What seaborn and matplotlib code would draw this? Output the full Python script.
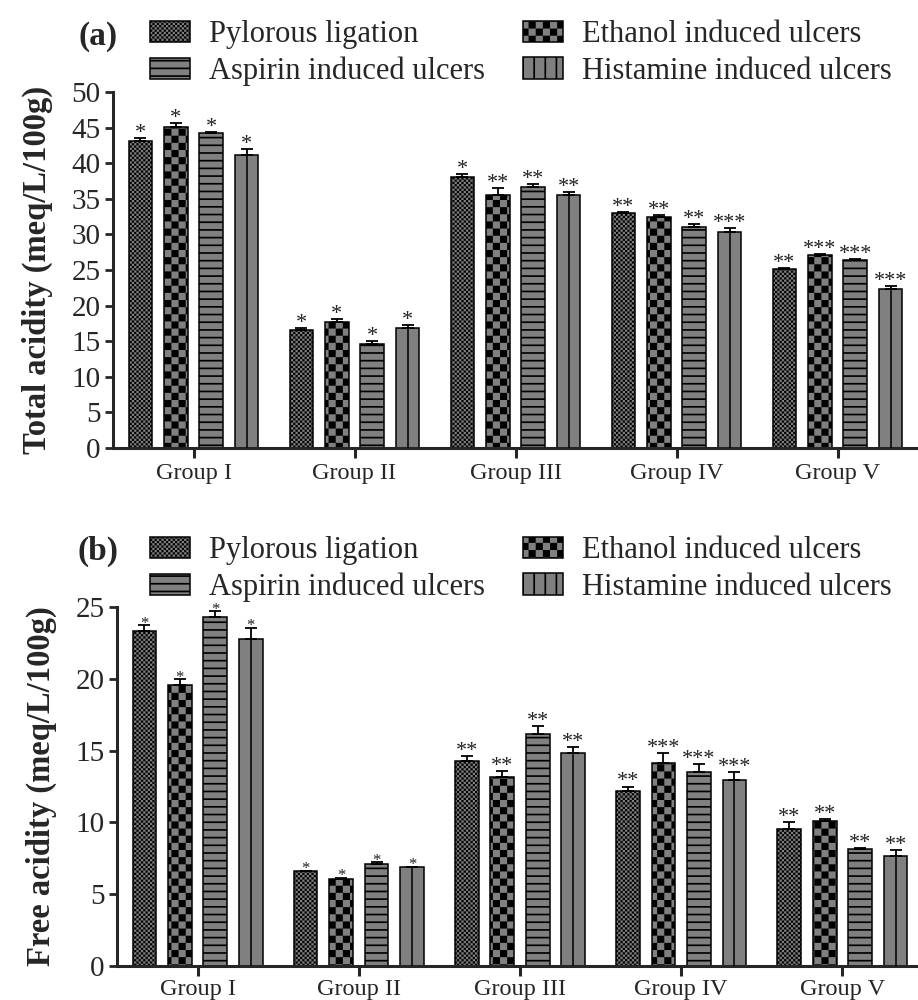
import warnings
import numpy as np
import pandas as pd
import matplotlib
matplotlib.use("Agg")
import matplotlib.pyplot as plt
import matplotlib.patches as mpatches
import matplotlib.hatch as mhatch
from matplotlib.path import Path
import seaborn as sns

warnings.filterwarnings("ignore")

# ---------------- data ----------------
groups = ["Group I", "Group II", "Group III", "Group IV", "Group V"]
series = ["Pylorous ligation", "Ethanol induced ulcers",
          "Aspirin induced ulcers", "Histamine induced ulcers"]

# (a) total acidity, mean and SEM
pylorous_total = [43.1, 16.6, 38.0, 33.0, 25.1]
ethanol_total = [45.1, 17.7, 35.5, 32.4, 27.1]
aspirin_total = [44.2, 14.6, 36.7, 31.1, 26.4]
histamine_total = [41.2, 16.9, 35.5, 30.3, 22.4]
pylorous_total_err = [0.5, 0.2, 0.5, 0.1, 0.15]
ethanol_total_err = [0.6, 0.4, 1.0, 0.3, 0.15]
aspirin_total_err = [0.2, 0.4, 0.4, 0.4, 0.15]
histamine_total_err = [0.8, 0.4, 0.4, 0.6, 0.4]
pylorous_total_sig = ["*", "*", "*", "**", "**"]
ethanol_total_sig = ["*", "*", "**", "**", "***"]
aspirin_total_sig = ["*", "*", "**", "**", "***"]
histamine_total_sig = ["*", "*", "**", "***", "***"]

# (b) free acidity, mean and SEM
pylorous_free = [23.35, 6.6, 14.3, 12.2, 9.56]
ethanol_free = [19.55, 6.06, 13.14, 14.16, 10.12]
aspirin_free = [24.28, 7.12, 16.18, 13.53, 8.15]
histamine_free = [22.8, 6.87, 14.83, 12.97, 7.68]
pylorous_free_err = [0.4, 0.05, 0.3, 0.3, 0.44]
ethanol_free_err = [0.45, 0.1, 0.44, 0.67, 0.12]
aspirin_free_err = [0.45, 0.1, 0.53, 0.54, 0.1]
histamine_free_err = [0.76, 0.05, 0.4, 0.54, 0.38]
pylorous_free_sig = ["*", "*", "**", "**", "**"]
ethanol_free_sig = ["*", "*", "**", "***", "**"]
aspirin_free_sig = ["*", "*", "**", "***", "**"]
histamine_free_sig = ["*", "*", "**", "***", "**"]


# ---------------- custom fill patterns ----------------
class CheckerHatch(mhatch.HatchPatternBase):
    """Filled checkerboard: 'c' = fine, 'k' = coarse."""

    def __init__(self, hatch, density):
        if "c" in hatch:
            self.n = 44
        elif "k" in hatch:
            self.n = 14
        else:
            self.n = 0
        self.num_vertices = (self.n * self.n // 2) * 5

    def set_vertices_and_codes(self, vertices, codes):
        n = self.n
        s = 1.0 / n
        k = 0
        for i in range(n):
            for j in range(n):
                if (i + j) % 2:
                    continue
                x0, y0 = i * s, j * s
                vertices[k:k + 5] = [(x0, y0), (x0 + s, y0), (x0 + s, y0 + s),
                                     (x0, y0 + s), (x0, y0)]
                codes[k:k + 5] = [Path.MOVETO, Path.LINETO, Path.LINETO,
                                  Path.LINETO, Path.CLOSEPOLY]
                k += 5


class StripeHatch(mhatch.HatchPatternBase):
    """Filled thin stripes: 'h' = horizontal, 'v' = vertical."""

    def __init__(self, hatch, density):
        self.mh = 13 if "h" in hatch else 0
        self.mv = 9 if "v" in hatch else 0
        self.num_vertices = (self.mh + self.mv) * 5

    def set_vertices_and_codes(self, vertices, codes):
        t = 0.017
        k = 0
        for j in range(self.mh):
            y0 = j / self.mh
            vertices[k:k + 5] = [(0, y0), (1, y0), (1, y0 + t), (0, y0 + t), (0, y0)]
            codes[k:k + 5] = [Path.MOVETO, Path.LINETO, Path.LINETO,
                              Path.LINETO, Path.CLOSEPOLY]
            k += 5
        for j in range(self.mv):
            x0 = j / self.mv
            vertices[k:k + 5] = [(x0, 0), (x0 + t, 0), (x0 + t, 1), (x0, 1), (x0, 0)]
            codes[k:k + 5] = [Path.MOVETO, Path.LINETO, Path.LINETO,
                              Path.LINETO, Path.CLOSEPOLY]
            k += 5


mhatch._hatch_types.extend([CheckerHatch, StripeHatch])

# ---------------- style ----------------
sns.set_style("ticks")
plt.rcParams["font.family"] = ["Liberation Serif", "DejaVu Serif"]
plt.rcParams["hatch.linewidth"] = 0.0
plt.rcParams["axes.linewidth"] = 2.2

BAR_GRAY = "#808080"
bar_hatches = ["c", "k", "h", ""]
legend_hatches = ["c", "k", "h", "v"]

fig = plt.figure(figsize=(9.18, 10.0), dpi=100)
ax_a = fig.add_axes([113 / 918, 0.552, 805 / 918, 0.356])
ax_b = fig.add_axes([117 / 918, 0.034, 806 / 918, 0.359])


def long_frame(vals):
    rows = []
    for s, v in zip(series, vals):
        for g, y in zip(groups, v):
            rows.append({"group": g, "series": s, "value": y})
    return pd.DataFrame(rows)


def draw_panel(ax, vals, errs, sigs, ymax, ylabel, star_sizes, xpad):
    df = long_frame(vals)
    sns.barplot(data=df, x="group", y="value", hue="series",
                order=groups, hue_order=series,
                palette={s: BAR_GRAY for s in series}, saturation=1,
                edgecolor="black", linewidth=1.1,
                width=0.88, gap=0.33, errorbar=None, legend=False, ax=ax)
    bar_containers = list(ax.containers)
    for i, cont in enumerate(bar_containers):
        bars = list(cont)
        xs = np.array([b.get_x() + b.get_width() / 2 for b in bars])
        hs = np.array([b.get_height() for b in bars])
        err = np.array(errs[i])
        for b in bars:
            b.set_hatch(bar_hatches[i])
        if i == 3:
            ax.vlines(xs, 0, hs, colors="black", linewidth=1.1, zorder=3)
        ax.errorbar(xs, hs, yerr=[np.zeros_like(err), err], fmt="none",
                    ecolor="black", elinewidth=1.3, capsize=4.2, capthick=1.3,
                    zorder=4)
        for j, (x, top, s) in enumerate(zip(xs, hs + err, sigs[i])):
            size = star_sizes[j]
            ax.annotate(s, (x, top), xytext=(0, 0 if size >= 16 else -2),
                        textcoords="offset points",
                        ha="center", va="baseline", fontsize=size,
                        color="#222222")
    ax.set_xlim(-0.5, 4.5)
    ax.set_ylim(0, ymax)
    ax.set_yticks(np.arange(0, ymax + 0.1, 5))
    ax.set_xlabel("")
    ax.set_ylabel(ylabel, fontsize=23.5, fontweight="bold", labelpad=13)
    ax.tick_params(axis="y", direction="out", length=6, width=2.0,
                   labelsize=21, pad=3)
    ax.tick_params(axis="x", direction="out", length=7, width=2.2,
                   labelsize=17.5, pad=xpad)
    sns.despine(ax=ax)


draw_panel(ax_a,
           [pylorous_total, ethanol_total, aspirin_total, histamine_total],
           [pylorous_total_err, ethanol_total_err, aspirin_total_err, histamine_total_err],
           [pylorous_total_sig, ethanol_total_sig, aspirin_total_sig, histamine_total_sig],
           50, "Total acidity (meq/L/100g)", [16] * 5, 4)
draw_panel(ax_b,
           [pylorous_free, ethanol_free, aspirin_free, histamine_free],
           [pylorous_free_err, ethanol_free_err, aspirin_free_err, histamine_free_err],
           [pylorous_free_sig, ethanol_free_sig, aspirin_free_sig, histamine_free_sig],
           25, "Free acidity (meq/L/100g)", [12, 12, 16, 16, 16], 2)

# legends (column-major order gives two rows of two)
order = [0, 2, 1, 3]


def add_legend(ax, anchor):
    handles = [mpatches.Patch(facecolor=BAR_GRAY, edgecolor="black",
                              linewidth=1.1, hatch=legend_hatches[k]) for k in order]
    labels = [series[k] for k in order]
    ax.legend(handles, labels, ncol=2, loc="upper left",
              bbox_to_anchor=anchor, bbox_transform=fig.transFigure,
              frameon=False, borderpad=0, borderaxespad=0,
              fontsize=22, handlelength=1.3, handleheight=0.7,
              handletextpad=0.62, columnspacing=1.25, labelspacing=0.25)


add_legend(ax_a, (150 / 918, 1 - 20 / 1000))
add_legend(ax_b, (150 / 918, 1 - 536 / 1000))

fig.text(98 / 918, 1 - 36 / 1000, "(a)", ha="center", va="center",
         fontsize=24, fontweight="bold")
fig.text(98 / 918, 1 - 551 / 1000, "(b)", ha="center", va="center",
         fontsize=24, fontweight="bold")

fig.savefig("out.png", dpi=100)
